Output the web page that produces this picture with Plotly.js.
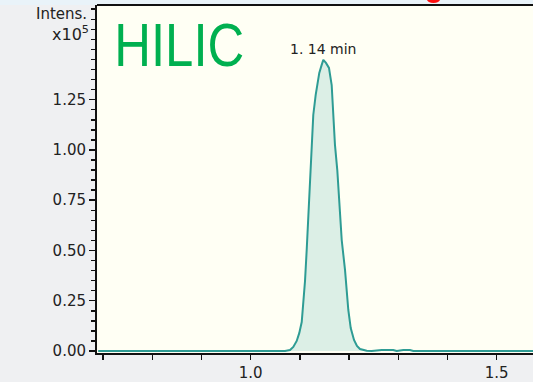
<!DOCTYPE html>
<html>
<head>
<meta charset="utf-8">
<script src="https://cdn.plot.ly/plotly-3.0.1.min.js"></script>
<style>html,body{margin:0;padding:0;background:#EFF0F2;}#chart{width:533px;height:382px;}</style>
</head>
<body>
<div id="chart"></div>
<script>
// Retention time (min)
var time = [0.69, 1.0697, 1.0799, 1.0866, 1.0935, 1.0988, 1.1037, 1.107, 1.1104, 1.1138, 1.1185, 1.1226, 1.1272, 1.1321, 1.1358, 1.1394, 1.1443, 1.1476, 1.153, 1.1591, 1.1646, 1.1679, 1.1713, 1.176, 1.1795, 1.1815, 1.185, 1.1917, 1.1951, 1.1984, 1.2033, 1.21, 1.216, 1.2222, 1.2358, 1.2459, 1.2663, 1.2898, 1.2967, 1.3102, 1.3238, 1.3305, 1.58];
// Intensity (x10^5)
var intensity = [0, 0, 0.005, 0.02, 0.05, 0.09, 0.144, 0.229, 0.348, 0.502, 0.751, 1.0, 1.174, 1.274, 1.333, 1.383, 1.423, 1.448, 1.433, 1.408, 1.323, 1.174, 1.025, 0.9, 0.776, 0.677, 0.552, 0.403, 0.303, 0.204, 0.114, 0.055, 0.025, 0.01, 0.0015, 0, 0.005, 0.005, 0, 0.005, 0.005, 0, 0];
var xTickVals = [1.0, 1.5];
var xTickText = ["1.0", "1.5"];
var yTickVals = [0, 0.25, 0.5, 0.75, 1.0, 1.25];
var yTickText = ["0.00", "0.25", "0.50", "0.75", "1.00", "1.25"];
var peakLabel = "1. 14 min";
var peakTime = 1.1476, peakValue = 1.448;
var title = "HILIC";

var L = 97, T = 5, plotW = 436, plotH = 348;
// absolute pixel -> paper fraction
function px(x) { return (x - L) / plotW; }
function py(y) { return 1 - (y - T) / plotH; }

var trace = {
  x: time, y: intensity, type: 'scatter', mode: 'lines',
  line: {color: '#2E9C94', width: 2},
  fill: 'tozeroy', fillcolor: 'rgba(214,236,227,0.85)',
  hoverinfo: 'none'
};

var tickFont = {family: 'DejaVu Sans, Verdana, sans-serif', size: 15, color: '#222'};

var layout = {
  width: 533, height: 382,
  margin: {l: 97, r: 0, t: 5, b: 29, pad: 0},
  paper_bgcolor: '#EFF0F2',
  plot_bgcolor: '#FFFFF4',
  showlegend: false,
  xaxis: {
    range: [0.6876, 1.5738], showgrid: false, zeroline: false,
    showline: true, linecolor: '#111', linewidth: 2,
    ticks: 'outside', ticklen: 5, tickwidth: 1.5, tickcolor: '#111',
    tickvals: xTickVals, ticktext: xTickText, tickfont: tickFont,
    minor: {dtick: 0.1, tick0: 0, ticks: 'outside', ticklen: 5, tickwidth: 1.5, tickcolor: '#111', showgrid: false}
  },
  yaxis: {
    range: [-0.01, 1.721], showgrid: false, zeroline: false,
    showline: true, linecolor: '#111', linewidth: 2,
    ticks: 'outside', ticklen: 6, tickwidth: 1.5, tickcolor: '#111',
    tickvals: yTickVals, ticktext: yTickText, tickfont: tickFont,
    minor: {dtick: 0.05, tick0: 0, ticks: 'outside', ticklen: 4, tickwidth: 1.5, tickcolor: '#111', showgrid: false}
  },
  shapes: [
    {type: 'rect', xref: 'paper', yref: 'paper', x0: px(0), x1: px(540), y0: 1, y1: py(-2), fillcolor: '#E9F3F9', line: {width: 0}, layer: 'below'},
    {type: 'line', xref: 'paper', yref: 'paper', x0: 0, x1: 1, y0: 1, y1: 1, line: {color: '#111', width: 2}},
    {type: 'circle', xref: 'paper', yref: 'paper', x0: px(427), x1: px(440), y0: py(3), y1: py(-4), fillcolor: '#FF1010', line: {width: 0}}
  ],
  annotations: [
    {text: title, xref: 'paper', yref: 'paper', x: px(179), y: py(45), xanchor: 'center', yanchor: 'middle', showarrow: false,
     font: {family: 'Liberation Sans, Arial, sans-serif', size: 62, color: '#00B050'}},
    {text: peakLabel, x: peakTime, y: peakValue, yshift: 1, xanchor: 'center', yanchor: 'bottom', showarrow: false,
     font: {family: 'DejaVu Sans, Verdana, sans-serif', size: 14, color: '#222'}},
    {text: 'Intens.', xref: 'paper', yref: 'paper', x: px(89), y: py(3), xanchor: 'right', yanchor: 'top', showarrow: false,
     font: {family: 'DejaVu Sans, Verdana, sans-serif', size: 15, color: '#222'}},
    {text: 'x10<sup>5</sup>', xref: 'paper', yref: 'paper', x: px(91), y: py(21), xanchor: 'right', yanchor: 'top', showarrow: false,
     font: {family: 'DejaVu Sans, Verdana, sans-serif', size: 16, color: '#222'}}
  ]
};

Plotly.newPlot('chart', [trace], layout, {displayModeBar: false, staticPlot: true}).then(function () {
  // condense the big title to the narrow look of the original
  var texts = document.querySelectorAll('.annotation-text');
  texts.forEach(function (t) {
    if (t.textContent === title) {
      t.setAttribute('textLength', '130');
      t.setAttribute('lengthAdjust', 'spacingAndGlyphs');
    }
  });
});
</script>
</body>
</html>
